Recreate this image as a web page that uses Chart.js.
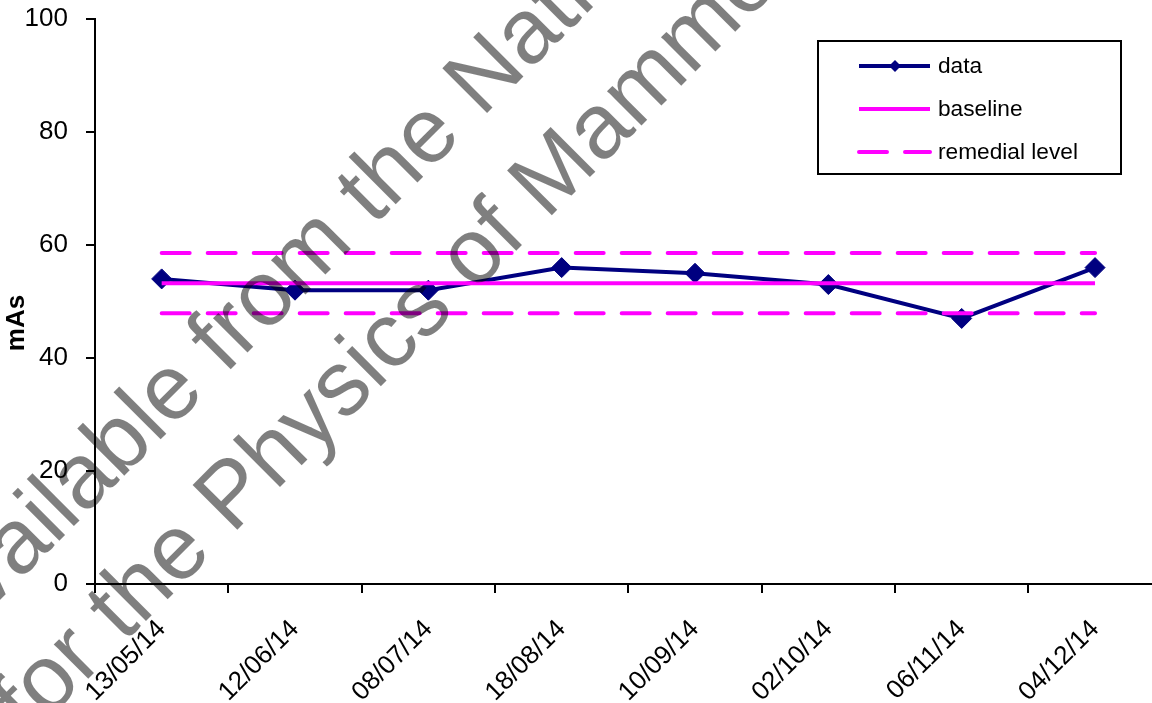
<!DOCTYPE html>
<html>
<head>
<meta charset="utf-8">
<script src="https://cdn.jsdelivr.net/npm/chart.js@4.4.0/dist/chart.umd.min.js"></script>
<style>
  html, body { margin: 0; padding: 0; background: #fff; overflow: hidden; width: 1152px; height: 703px; }
  #wrap { width: 1180px; height: 703px; }
</style>
</head>
<body>
<div id="wrap"><canvas id="qc" width="1180" height="703"></canvas></div>
<script>
// Measurement dates and tube load readings
const dates = ['13/05/14', '12/06/14', '08/07/14', '18/08/14', '10/09/14', '02/10/14', '06/11/14', '04/12/14'];
const mAsValues = [54, 52, 52, 56, 55, 53, 47, 56];
const baselineValues = [53.25, 53.25, 53.25, 53.25, 53.25, 53.25, 53.25, 53.25];
const remedialUpper = [58.6, 58.6, 58.6, 58.6, 58.6, 58.6, 58.6, 58.6];
const remedialLower = [47.9, 47.9, 47.9, 47.9, 47.9, 47.9, 47.9, 47.9];
const yTicks = [0, 20, 40, 60, 80, 100];
const seriesNames = ['data', 'baseline', 'remedial level'];
const axisTitle = 'mAs';
const watermarkLines = ['Available from the National Coordinating Centre', 'for the Physics of Mammography'];

const FONT = '"Liberation Sans", Arial, Helvetica, sans-serif';
const NAVY = '#000080';
const MAGENTA = '#FF00FF';

// Boxed legend in the upper right, built from the dataset styles
const boxedLegend = {
  id: 'boxedLegend',
  afterDraw(chart) {
    const ctx = chart.ctx;
    const bx = 818, by = 41, bw = 303, bh = 133;
    ctx.save();
    ctx.fillStyle = '#fff';
    ctx.fillRect(bx, by, bw, bh);
    ctx.strokeStyle = '#000';
    ctx.lineWidth = 2;
    ctx.strokeRect(bx, by, bw, bh);
    const entries = chart.data.datasets.filter(ds => ds.label);
    entries.forEach((ds, i) => {
      const y = 66 + i * 43;
      ctx.save();
      ctx.strokeStyle = ds.borderColor;
      ctx.lineWidth = ds.borderWidth;
      ctx.lineCap = ds.borderCapStyle || 'butt';
      ctx.setLineDash(ds.borderDash || []);
      ctx.beginPath();
      ctx.moveTo(859, y);
      ctx.lineTo(930, y);
      ctx.stroke();
      ctx.restore();
      if (ds.pointRadius > 0) {
        const r = 6;
        ctx.fillStyle = ds.borderColor;
        ctx.beginPath();
        ctx.moveTo(895 - r, y);
        ctx.lineTo(895, y - r);
        ctx.lineTo(895 + r, y);
        ctx.lineTo(895, y + r);
        ctx.closePath();
        ctx.fill();
      }
      ctx.fillStyle = '#000';
      ctx.font = '22.7px ' + FONT;
      ctx.textBaseline = 'middle';
      ctx.textAlign = 'left';
      ctx.fillText(ds.label, 938, y + 1);
    });
    ctx.restore();
  }
};

// Vertical axis title, centred beside the value axis
const yTitle = {
  id: 'yTitle',
  afterDraw(chart) {
    const ctx = chart.ctx;
    ctx.save();
    ctx.translate(17, 323);
    ctx.rotate(-Math.PI / 2);
    ctx.font = 'bold 26px ' + FONT;
    ctx.fillStyle = '#000';
    ctx.textAlign = 'center';
    ctx.textBaseline = 'middle';
    ctx.fillText(axisTitle, 0, 0);
    ctx.restore();
  }
};

// Diagonal grey notice printed across the plot; each line is placed so a
// chosen word sits at a given baseline point
const watermark = {
  id: 'watermark',
  afterDraw(chart) {
    const ctx = chart.ctx;
    ctx.save();
    ctx.font = '92px ' + FONT;
    ctx.fillStyle = 'rgba(0,0,0,0.5)';
    ctx.textBaseline = 'alphabetic';
    ctx.textAlign = 'left';
    const deg = 45;
    const ang = -deg * Math.PI / 180;
    const ux = Math.cos(ang), uy = Math.sin(ang);
    const anchors = [
      { prefix: 'Available ', x: 225, y: 375 },
      { prefix: 'for the ', x: 232, y: 535 }
    ];
    watermarkLines.forEach((t, i) => {
      const a = anchors[i];
      const w = ctx.measureText(a.prefix).width;
      ctx.save();
      ctx.translate(a.x - w * ux, a.y - w * uy);
      ctx.rotate(ang);
      ctx.fillText(t, 0, 0);
      ctx.restore();
    });
    ctx.restore();
  }
};

const remedialStyle = {
  borderColor: MAGENTA,
  backgroundColor: MAGENTA,
  borderWidth: 4,
  borderDash: [28, 18],
  borderCapStyle: 'round',
  pointRadius: 0,
  fill: false,
  order: 2
};

new Chart(document.getElementById('qc').getContext('2d'), {
  type: 'line',
  data: {
    labels: dates,
    datasets: [
      {
        label: seriesNames[0],
        data: mAsValues,
        borderColor: NAVY,
        backgroundColor: NAVY,
        borderWidth: 4,
        pointStyle: 'rectRot',
        pointRadius: 10,
        pointBorderWidth: 1,
        pointBorderColor: NAVY,
        pointBackgroundColor: NAVY,
        tension: 0,
        fill: false,
        order: 3
      },
      {
        label: seriesNames[1],
        data: baselineValues,
        borderColor: MAGENTA,
        backgroundColor: MAGENTA,
        borderWidth: 4,
        pointRadius: 0,
        fill: false,
        order: 1
      },
      Object.assign({ label: seriesNames[2], data: remedialUpper }, remedialStyle),
      Object.assign({ label: '', data: remedialLower }, remedialStyle)
    ]
  },
  options: {
    responsive: false,
    animation: false,
    devicePixelRatio: 1,
    layout: { padding: { left: 0, top: 19, right: 18.3, bottom: 0 } },
    plugins: { legend: { display: false }, tooltip: { enabled: false } },
    scales: {
      x: {
        type: 'category',
        offset: true,
        grid: { offset: true, drawOnChartArea: false, drawTicks: true, tickLength: 9, color: '#000', lineWidth: 2 },
        border: { display: true, color: '#000', width: 2 },
        ticks: { autoSkip: false, minRotation: 45, maxRotation: 45, padding: 21, color: '#000', font: { family: FONT, size: 26 } },
        afterFit: s => { s.height = 119; s.paddingLeft = 0; s.paddingRight = 0; }
      },
      y: {
        min: 0,
        max: 100,
        afterBuildTicks: s => { s.ticks = yTicks.map(v => ({ value: v })); },
        grid: { drawOnChartArea: false, drawTicks: true, tickLength: 9, color: '#000', lineWidth: 2 },
        border: { display: true, color: '#000', width: 2 },
        ticks: { padding: 18, color: '#000', font: { family: FONT, size: 26 } },
        afterFit: s => { s.width = 95; s.paddingTop = 0; s.paddingBottom = 0; }
      }
    }
  },
  plugins: [boxedLegend, yTitle, watermark]
});
</script>
</body>
</html>
